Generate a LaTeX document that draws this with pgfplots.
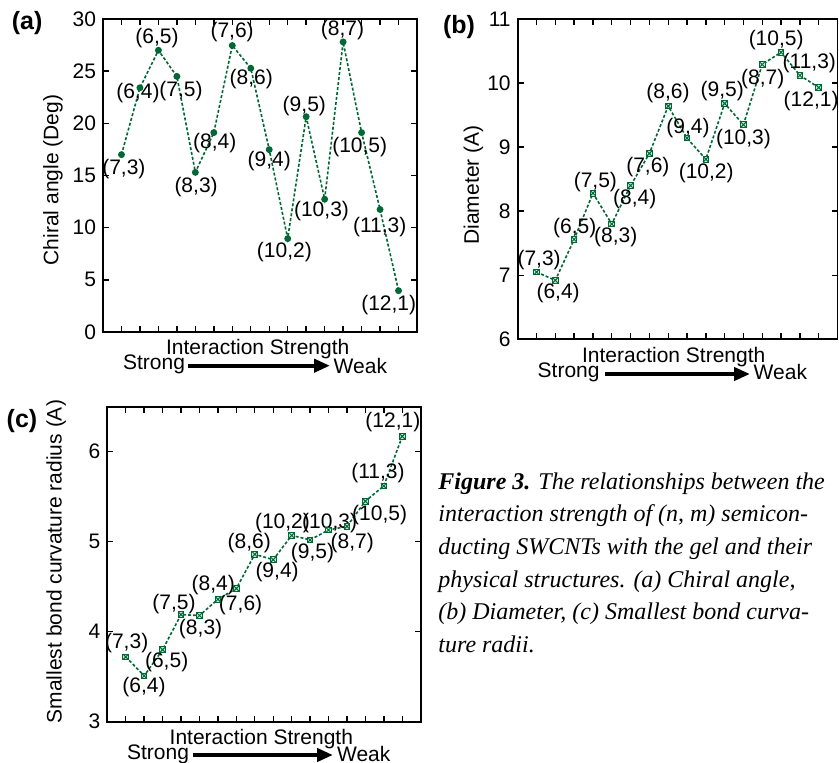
\documentclass[border=0pt]{standalone}
\usepackage{fontspec}
\setmainfont{Liberation Sans}
\newfontfamily\capfont{Liberation Serif}
\usepackage{pgfplots}
\usepackage{pgfplotstable}
\pgfplotsset{compat=1.18}
\usetikzlibrary{arrows.meta}
\definecolor{dg}{RGB}{0,104,52}
\definecolor{sqfill}{RGB}{200,232,212}

\pgfdeclareplotmark{boxx}{%
  \pgfpathrectangle{\pgfpoint{-\pgfplotmarksize}{-\pgfplotmarksize}}{\pgfpoint{2\pgfplotmarksize}{2\pgfplotmarksize}}%
  \pgfusepathqfillstroke
  \pgfpathmoveto{\pgfpoint{-\pgfplotmarksize}{-\pgfplotmarksize}}%
  \pgfpathlineto{\pgfpoint{\pgfplotmarksize}{\pgfplotmarksize}}%
  \pgfpathmoveto{\pgfpoint{-\pgfplotmarksize}{\pgfplotmarksize}}%
  \pgfpathlineto{\pgfpoint{\pgfplotmarksize}{-\pgfplotmarksize}}%
  \pgfusepathqstroke
}

\newcommand\lab{\fontsize{10.5}{12}\selectfont}
\tikzset{lbl/.style={font=\lab, inner sep=0pt, anchor=center}}

\pgfplotsset{
  panel/.style={
    scale only axis, anchor=south west,
    xmin=0, xmax=17, xtick={1,...,16}, xticklabels={},
    tick align=inside, major tick length=3pt,
    xtick pos=both, ytick pos=both, yticklabel pos=left,
    axis line style={line width=0.9pt},
    every tick/.style={black, line width=0.7pt},
    tick label style={font=\lab},
    /pgf/number format/assume math mode=true,
    clip=false,
  },
  series/.style={dg, line width=0.8pt, dash pattern=on 1.5pt off 1pt},
}

\pgfplotstableread{
x y
1 17.00
2 23.41
3 27.00
4 24.50
5 15.30
6 19.11
7 27.46
8 25.28
9 17.48
10 8.95
11 20.63
12 12.73
13 27.80
14 19.11
15 11.74
16 3.96
}\chiral

\pgfplotstableread{
x y
1 7.05
2 6.92
3 7.56
4 8.28
5 7.80
6 8.40
7 8.90
8 9.64
9 9.14
10 8.81
11 9.68
12 9.35
13 10.29
14 10.48
15 10.12
16 9.93
}\diam

\pgfplotstableread{
x y
1 3.72
2 3.51
3 3.80
4 4.19
5 4.18
6 4.36
7 4.48
8 4.86
9 4.80
10 5.07
11 5.02
12 5.13
13 5.17
14 5.45
15 5.62
16 6.17
}\curv

\begin{document}
\begin{tikzpicture}[x=1pt,y=1pt]
\useasboundingbox (0,0) rectangle (419.5,-381.5);

% ---------------- (a)
\begin{axis}[panel, at={(51.5pt,-166pt)}, width=157pt, height=156.5pt,
  ymin=0, ymax=30, ytick={0,5,...,30}]
\addplot[series, mark=*, mark size=1.3pt, mark options={solid, fill=dg}] table[x=x,y=y] {\chiral};
\node[lbl] at (axis cs:1.13,15.6) {(7,3)};
\node[lbl] at (axis cs:1.89,22.9) {(6,4)};
\node[lbl] at (axis cs:2.92,28.2) {(6,5)};
\node[lbl] at (axis cs:4.22,23.1) {(7,5)};
\node[lbl] at (axis cs:5.04,13.9) {(8,3)};
\node[lbl] at (axis cs:6.05,18.1) {(8,4)};
\node[lbl] at (axis cs:6.99,28.7) {(7,6)};
\node[lbl] at (axis cs:8.03,24.2) {(8,6)};
\node[lbl] at (axis cs:9.00,16.4) {(9,4)};
\node[lbl] at (axis cs:9.82,7.67) {(10,2)};
\node[lbl] at (axis cs:10.9,21.7) {(9,5)};
\node[lbl] at (axis cs:11.83,11.6) {(10,3)};
\node[lbl] at (axis cs:12.97,28.9) {(8,7)};
\node[lbl] at (axis cs:13.9,17.7) {(10,5)};
\node[lbl] at (axis cs:14.98,10.1) {(11,3)};
\node[lbl] at (axis cs:15.47,2.6) {(12,1)};
\end{axis}

% ---------------- (b)
\begin{axis}[panel, at={(258.85pt,-169.65pt)}, width=159.9pt, height=160.15pt,
  ymin=6, ymax=11, ytick={6,...,11}]
\addplot[series, mark=boxx, mark size=1.4pt, mark options={solid, line width=0.5pt, fill=sqfill}] table[x=x,y=y] {\diam};
\node[lbl] at (axis cs:1.14,7.24) {(7,3)};
\node[lbl] at (axis cs:2.15,6.72) {(6,4)};
\node[lbl] at (axis cs:3.03,7.73) {(6,5)};
\node[lbl] at (axis cs:4.13,8.46) {(7,5)};
\node[lbl] at (axis cs:5.21,7.59) {(8,3)};
\node[lbl] at (axis cs:6.22,8.19) {(8,4)};
\node[lbl] at (axis cs:6.92,8.69) {(7,6)};
\node[lbl] at (axis cs:7.99,9.84) {(8,6)};
\node[lbl] at (axis cs:9.05,9.30) {(9,4)};
\node[lbl] at (axis cs:10.02,8.59) {(10,2)};
\node[lbl] at (axis cs:10.87,9.87) {(9,5)};
\node[lbl] at (axis cs:12.0,9.12) {(10,3)};
\node[lbl] at (axis cs:13.03,10.06) {(8,7)};
\node[lbl] at (axis cs:13.74,10.67) {(10,5)};
\node[lbl] at (axis cs:15.5,10.31) {(11,3)};
\node[lbl] at (axis cs:15.6,9.72) {(12,1)};
\end{axis}

% ---------------- (c)
\begin{axis}[panel, at={(53.65pt,-360.85pt)}, width=156.7pt, height=157.5pt,
  ymin=3, ymax=6.5, ytick={3,4,5,6}]
\addplot[series, mark=boxx, mark size=1.4pt, mark options={solid, line width=0.5pt, fill=sqfill}] table[x=x,y=y] {\curv};
\node[lbl] at (axis cs:1.05,3.87) {(7,3)};
\node[lbl] at (axis cs:1.99,3.39) {(6,4)};
\node[lbl] at (axis cs:3.22,3.66) {(6,5)};
\node[lbl] at (axis cs:3.62,4.31) {(7,5)};
\node[lbl] at (axis cs:5.06,4.03) {(8,3)};
\node[lbl] at (axis cs:5.75,4.52) {(8,4)};
\node[lbl] at (axis cs:7.23,4.30) {(7,6)};
\node[lbl] at (axis cs:7.70,4.99) {(8,6)};
\node[lbl] at (axis cs:9.21,4.66) {(9,4)};
\node[lbl] at (axis cs:9.50,5.21) {(10,2)};
\node[lbl] at (axis cs:11.13,4.87) {(9,5)};
\node[lbl] at (axis cs:12.06,5.21) {(10,3)};
\node[lbl] at (axis cs:13.29,4.98) {(8,7)};
\node[lbl] at (axis cs:14.77,5.30) {(10,5)};
\node[lbl] at (axis cs:14.68,5.76) {(11,3)};
\node[lbl] at (axis cs:15.49,6.33) {(12,1)};
\end{axis}

% ---------- panel letters
\node[font=\fontsize{12.5}{14}\selectfont\bfseries, inner sep=0pt] at (13.6,-11.7) {(a)};
\node[font=\fontsize{12.5}{14}\selectfont\bfseries, inner sep=0pt] at (229.5,-13.3) {(b)};
\node[font=\fontsize{12.5}{14}\selectfont\bfseries, inner sep=0pt] at (11,-210.4) {(c)};

% ---------- y labels
\node[font=\lab, rotate=90, inner sep=0pt] at (26.5,-90) {Chiral angle (Deg)};
\node[font=\lab, rotate=90, inner sep=0pt] at (236.7,-92.5) {Diameter (A)};
\node[font=\lab, rotate=90, inner sep=0pt] at (28.1,-280.8) {Smallest bond curvature radius (A)};

% ---------- x labels + arrows
\node[font=\lab, inner sep=0pt, anchor=base west] at (82.85,-177.5) {Interaction Strength};
\node[font=\lab, inner sep=0pt, anchor=base west] at (61.35,-185) {Strong};
\node[font=\lab, inner sep=0pt, anchor=base west] at (166.65,-186.65) {Weak};
\draw[line width=2pt, -{Triangle[length=8pt,width=6.5pt]}] (94.2,-182.85) -- (165,-182.85);

\node[font=\lab, inner sep=0pt, anchor=base west] at (290.85,-181.35) {Interaction Strength};
\node[font=\lab, inner sep=0pt, anchor=base west] at (268.65,-188.65) {Strong};
\node[font=\lab, inner sep=0pt, anchor=base west] at (376.65,-190) {Weak};
\draw[line width=2pt, -{Triangle[length=8pt,width=6.5pt]}] (302.5,-187) -- (375,-187);

\node[font=\lab, inner sep=0pt, anchor=base west] at (84.65,-372) {Interaction Strength};
\node[font=\lab, inner sep=0pt, anchor=base west] at (63.35,-379.65) {Strong};
\node[font=\lab, inner sep=0pt, anchor=base west] at (168.35,-380.85) {Weak};
\draw[line width=2pt, -{Triangle[length=8pt,width=6.5pt]}] (96.35,-377.5) -- (166.5,-377.5);

% ---------- caption
\begin{scope}[every node/.style={font=\capfont\itshape\fontsize{12}{14}\selectfont, inner sep=0pt, anchor=base west}]
\node at (219,-244.5) {{\bfseries Figure 3.} The relationships between the};
\node at (219,-260.85) {interaction strength of (n, m) semicon-};
\node at (219,-277.2) {ducting SWCNTs with the gel and their};
\node at (219,-293.55) {physical structures. (a) Chiral angle,};
\node at (219,-309.9) {(b) Diameter, (c) Smallest bond curva-};
\node at (219,-326.25) {ture radii.};
\end{scope}
\end{tikzpicture}
\end{document}
